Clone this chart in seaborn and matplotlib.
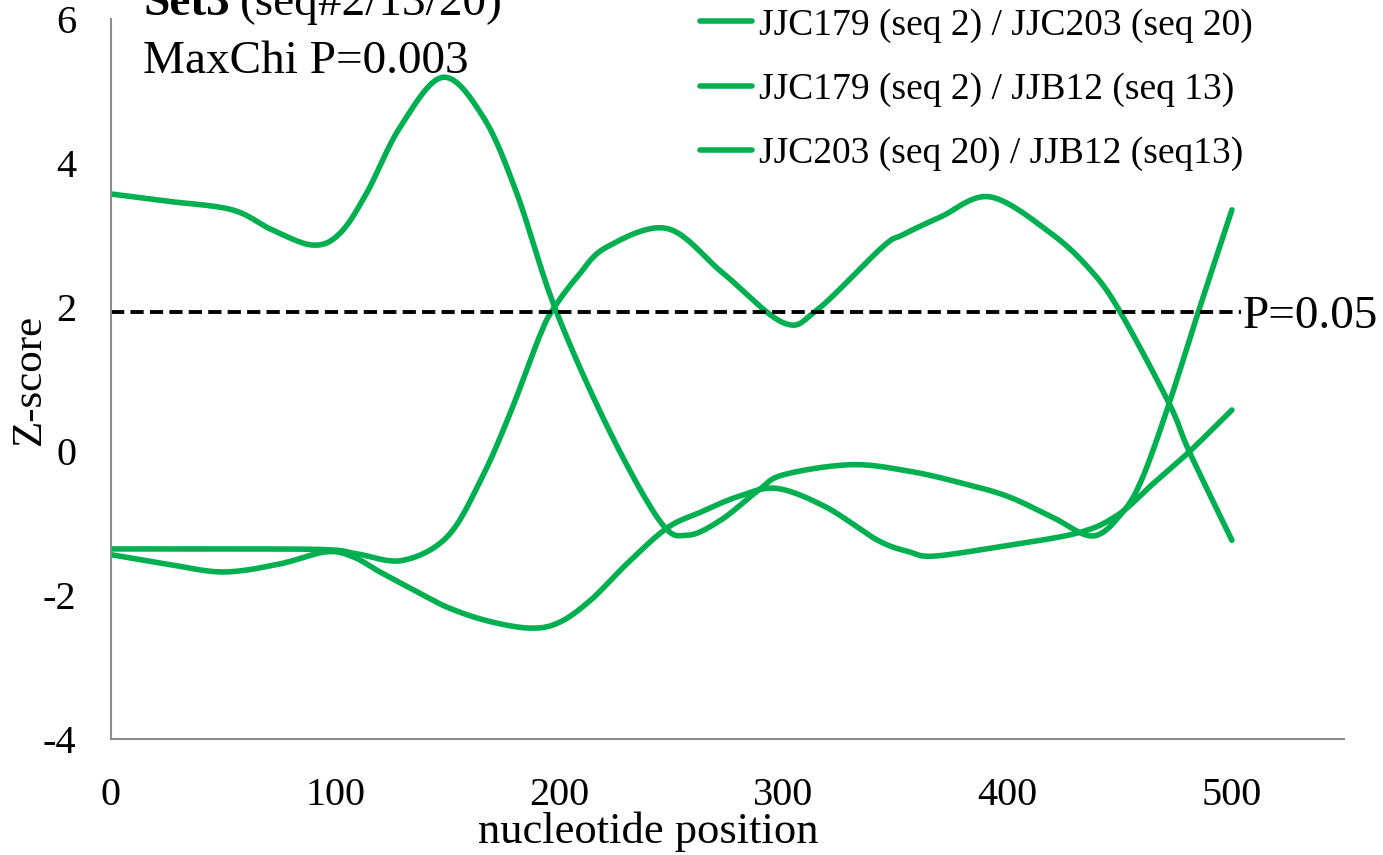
import numpy as np
import pandas as pd
import matplotlib
matplotlib.use("Agg")
import matplotlib.pyplot as plt
import seaborn as sns
from matplotlib.lines import Line2D

# ---------------- data ----------------
labels = ["JJC179 (seq 2) / JJC203 (seq 20)",
          "JJC179 (seq 2) / JJB12 (seq 13)",
          "JJC203 (seq 20) / JJB12 (seq13)"]

a_x = [0, 25, 54, 72, 90, 102, 114, 129, 148, 166, 181, 198, 222, 245, 257,
       272, 289, 300, 330, 356, 380, 400, 420, 438, 451, 460, 472, 485, 500]
a_y = [3.57, 3.47, 3.35, 3.07, 2.86, 3.02, 3.58, 4.50, 5.19, 4.64, 3.58, 1.99, 0.30,
       -0.98, -1.17, -0.96, -0.54, -0.33, -0.19, -0.28, -0.45, -0.63, -0.92, -1.18,
       -0.86, -0.38, 0.66, 1.93, 3.35]

b_x = [0, 25, 50, 75, 96, 108, 120, 135, 150, 168, 187, 200, 214, 230, 248, 263, 280,
       297, 319, 342, 356, 367, 396, 431, 449, 465, 481, 500]
b_y = [-1.44, -1.57, -1.68, -1.57, -1.40, -1.47, -1.68, -1.93, -2.17, -2.36, -2.46, -2.38,
       -2.07, -1.57, -1.07, -0.85, -0.63, -0.52, -0.78, -1.24, -1.40, -1.46, -1.33, -1.14,
       -0.89, -0.45, -0.01, 0.57]

c_x = [0, 50, 96, 110, 130, 150, 165, 178, 191, 197, 208, 221, 248, 273, 300,
       315, 344, 353, 370, 392, 419, 437, 450, 472, 481, 500]
c_y = [-1.36, -1.36, -1.37, -1.43, -1.52, -1.19, -0.40, 0.52, 1.58, 1.96, 2.42,
       2.83, 3.09, 2.47, 1.78, 1.96, 2.83, 3.00, 3.25, 3.53, 3.03, 2.51, 1.94, 0.66,
       -0.01, -1.24]

threshold_x = [0, 504]
threshold_y = [1.93, 1.93]
threshold_label = "P=0.05"

title_bold = "Set3"
title_rest = "(seq#2/13/20)"
subtitle = "MaxChi P=0.003"
x_label = "nucleotide position"
y_label = "Z-score"
x_ticks = [0, 100, 200, 300, 400, 500]
y_ticks = [-4, -2, 0, 2, 4, 6]

GREEN = "#00B050"
GRAY = "#8c8c8c"


def smooth(xs, ys, n=24):
    """Excel-style smoothed line (Catmull-Rom / Bezier rendering of the points)."""
    P = np.column_stack([xs, ys]).astype(float)
    E = np.vstack([P[0], P, P[-1]])
    out = []
    t = np.linspace(0, 1, n, endpoint=False)[:, None]
    for i in range(1, len(E) - 2):
        p0, p1, p2, p3 = E[i - 1], E[i], E[i + 1], E[i + 2]
        c1 = p1 + (p2 - p0) / 6.0
        c2 = p2 - (p3 - p1) / 6.0
        seg = (1 - t) ** 3 * p1 + 3 * (1 - t) ** 2 * t * c1 + 3 * (1 - t) * t ** 2 * c2 + t ** 3 * p2
        out.append(seg)
    out.append(P[-1][None, :])
    return np.vstack(out)


frames = []
for lab, xs, ys in zip(labels, [a_x, b_x, c_x], [a_y, b_y, c_y]):
    s = smooth(xs, ys)
    frames.append(pd.DataFrame({"x": s[:, 0], "y": s[:, 1], "pair": lab}))
df = pd.concat(frames, ignore_index=True)

# ---------------- figure ----------------
sns.set_theme(style="white")
plt.rcParams["font.family"] = ["Liberation Serif", "DejaVu Serif"]
plt.rcParams["axes.unicode_minus"] = False
plt.rcParams["text.color"] = "black"
plt.rcParams["axes.labelcolor"] = "black"
plt.rcParams["xtick.color"] = "black"
plt.rcParams["ytick.color"] = "black"

W, H = 1383, 855
fig = plt.figure(figsize=(W / 100, H / 100), dpi=100)
ax = fig.add_axes([111 / W, 1 - 739 / H, 1233 / W, 720 / H])

sns.lineplot(data=df, x="x", y="y", hue="pair", palette=[GREEN] * 3, sort=False,
             estimator=None, legend=False, linewidth=4.0, ax=ax,
             solid_capstyle="round")

sns.lineplot(x=threshold_x, y=threshold_y, color="black", linewidth=2.8,
             linestyle=(0, (3.4, 1.6)), ax=ax)
ax.annotate(threshold_label, xy=(threshold_x[-1], threshold_y[-1]), xytext=(1, -11.5),
            textcoords="offset points", fontsize=34, va="baseline", ha="left",
            annotation_clip=False, color="black")

ax.set_xlim(0, 550)
ax.set_ylim(-4, 6)
ax.set_xticks(x_ticks)
ax.set_yticks(y_ticks)
ax.set_xticklabels([str(v) for v in x_ticks])
ax.set_yticklabels([str(v) for v in y_ticks])

for side in ["top", "right"]:
    ax.spines[side].set_visible(False)
for side in ["left", "bottom"]:
    ax.spines[side].set_color(GRAY)
    ax.spines[side].set_linewidth(1.5)

ax.tick_params(axis="x", direction="out", length=9, width=1.2, color=GRAY,
               labelsize=29, pad=18, labelcolor="black")
ax.tick_params(axis="y", direction="out", length=9, width=1.2, color=GRAY,
               labelsize=29, pad=16, labelcolor="black")
ax.grid(False)

ax.set_xlabel(x_label, fontsize=32, color="black")
ax.set_ylabel(y_label, fontsize=31, color="black")
ax.xaxis.set_label_coords(0.436, -0.101)
ax.yaxis.set_label_coords(-0.050, 0.5)

handles = [Line2D([], [], color=GREEN, linewidth=4.0, solid_capstyle="round") for _ in labels]
leg = ax.legend(handles, labels, loc="upper left", bbox_to_anchor=(700 / W, 1 - 8 / H),
                bbox_transform=fig.transFigure, frameon=False, fontsize=27,
                handlelength=1.39, handletextpad=0.19, labelspacing=0.79,
                borderpad=0, borderaxespad=0)
for txt in leg.get_texts():
    txt.set_color("black")

t1 = fig.text(143 / W, 1 - 15 / H, title_bold, fontsize=34, fontweight="bold",
              va="baseline", ha="left", color="black")
fig.canvas.draw()
bb = t1.get_window_extent(fig.canvas.get_renderer())
fig.text((bb.x1 + 10) / W, 1 - 15 / H, title_rest, fontsize=34, va="baseline", ha="left",
         color="black")
fig.text(143 / W, 1 - 73 / H, subtitle, fontsize=34, va="baseline", ha="left", color="black")

fig.savefig("out.png", dpi=100, facecolor="white")
